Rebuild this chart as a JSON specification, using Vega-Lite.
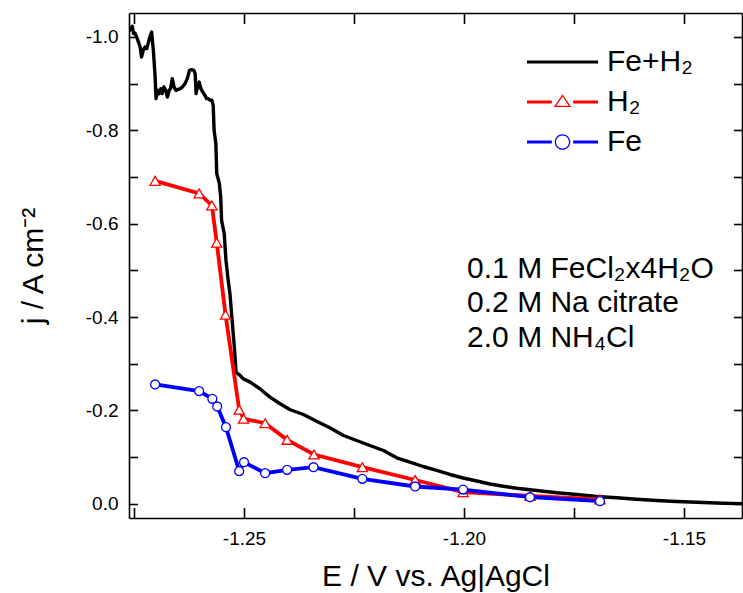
{
  "$schema": "https://vega.github.io/schema/vega-lite/v6.json",
  "width": 613,
  "height": 505,
  "autosize": {"type": "none"},
  "padding": {"left": 129, "top": 13, "right": 1, "bottom": 75},
  "background": "white",
  "config": {"view": {"stroke": null}, "font": "Liberation Sans", "axis": {"grid": false}},
  "datasets": {
    "curve": [
      {"E": -1.2761, "j": -1.0126, "series": "Fe+H2"},
      {"E": -1.2757, "j": -1.0178, "series": "Fe+H2"},
      {"E": -1.2754, "j": -1.0227, "series": "Fe+H2"},
      {"E": -1.2751, "j": -1.0071, "series": "Fe+H2"},
      {"E": -1.2748, "j": -1.0084, "series": "Fe+H2"},
      {"E": -1.2744, "j": -0.9998, "series": "Fe+H2"},
      {"E": -1.2740, "j": -0.9891, "series": "Fe+H2"},
      {"E": -1.2736, "j": -0.9784, "series": "Fe+H2"},
      {"E": -1.2733, "j": -0.9569, "series": "Fe+H2"},
      {"E": -1.2729, "j": -0.9713, "series": "Fe+H2"},
      {"E": -1.2725, "j": -0.9784, "series": "Fe+H2"},
      {"E": -1.2721, "j": -0.9749, "series": "Fe+H2"},
      {"E": -1.2718, "j": -0.9856, "series": "Fe+H2"},
      {"E": -1.2714, "j": -0.9998, "series": "Fe+H2"},
      {"E": -1.2710, "j": -1.0105, "series": "Fe+H2"},
      {"E": -1.2706, "j": -0.9713, "series": "Fe+H2"},
      {"E": -1.2702, "j": -0.9141, "series": "Fe+H2"},
      {"E": -1.2700, "j": -0.8678, "series": "Fe+H2"},
      {"E": -1.2696, "j": -0.8856, "series": "Fe+H2"},
      {"E": -1.2693, "j": -0.8785, "series": "Fe+H2"},
      {"E": -1.2689, "j": -0.8892, "series": "Fe+H2"},
      {"E": -1.2686, "j": -0.8785, "series": "Fe+H2"},
      {"E": -1.2682, "j": -0.8927, "series": "Fe+H2"},
      {"E": -1.2678, "j": -0.8856, "series": "Fe+H2"},
      {"E": -1.2674, "j": -0.8712, "series": "Fe+H2"},
      {"E": -1.2670, "j": -0.8856, "series": "Fe+H2"},
      {"E": -1.2667, "j": -0.8892, "series": "Fe+H2"},
      {"E": -1.2663, "j": -0.9107, "series": "Fe+H2"},
      {"E": -1.2659, "j": -0.8927, "series": "Fe+H2"},
      {"E": -1.2655, "j": -0.8856, "series": "Fe+H2"},
      {"E": -1.2651, "j": -0.8871, "series": "Fe+H2"},
      {"E": -1.2645, "j": -0.8892, "series": "Fe+H2"},
      {"E": -1.2640, "j": -0.8927, "series": "Fe+H2"},
      {"E": -1.2634, "j": -0.8999, "series": "Fe+H2"},
      {"E": -1.2629, "j": -0.9107, "series": "Fe+H2"},
      {"E": -1.2624, "j": -0.9284, "series": "Fe+H2"},
      {"E": -1.2619, "j": -0.9299, "series": "Fe+H2"},
      {"E": -1.2614, "j": -0.9284, "series": "Fe+H2"},
      {"E": -1.2611, "j": -0.9214, "series": "Fe+H2"},
      {"E": -1.2609, "j": -0.8785, "series": "Fe+H2"},
      {"E": -1.2605, "j": -0.8963, "series": "Fe+H2"},
      {"E": -1.2602, "j": -0.9034, "series": "Fe+H2"},
      {"E": -1.2598, "j": -0.8892, "series": "Fe+H2"},
      {"E": -1.2594, "j": -0.8820, "series": "Fe+H2"},
      {"E": -1.2589, "j": -0.8749, "series": "Fe+H2"},
      {"E": -1.2585, "j": -0.8678, "series": "Fe+H2"},
      {"E": -1.2581, "j": -0.8678, "series": "Fe+H2"},
      {"E": -1.2577, "j": -0.8642, "series": "Fe+H2"},
      {"E": -1.2573, "j": -0.8642, "series": "Fe+H2"},
      {"E": -1.2570, "j": -0.8534, "series": "Fe+H2"},
      {"E": -1.2568, "j": -0.7999, "series": "Fe+H2"},
      {"E": -1.2564, "j": -0.7714, "series": "Fe+H2"},
      {"E": -1.2562, "j": -0.7071, "series": "Fe+H2"},
      {"E": -1.2556, "j": -0.6857, "series": "Fe+H2"},
      {"E": -1.2553, "j": -0.6570, "series": "Fe+H2"},
      {"E": -1.2551, "j": -0.6070, "series": "Fe+H2"},
      {"E": -1.2545, "j": -0.5785, "series": "Fe+H2"},
      {"E": -1.2541, "j": -0.5213, "series": "Fe+H2"},
      {"E": -1.2536, "j": -0.4785, "series": "Fe+H2"},
      {"E": -1.2532, "j": -0.4500, "series": "Fe+H2"},
      {"E": -1.2527, "j": -0.3928, "series": "Fe+H2"},
      {"E": -1.2522, "j": -0.3355, "series": "Fe+H2"},
      {"E": -1.2518, "j": -0.2813, "series": "Fe+H2"},
      {"E": -1.2509, "j": -0.2749, "series": "Fe+H2"},
      {"E": -1.2502, "j": -0.2678, "series": "Fe+H2"},
      {"E": -1.2486, "j": -0.2606, "series": "Fe+H2"},
      {"E": -1.2464, "j": -0.2464, "series": "Fe+H2"},
      {"E": -1.2441, "j": -0.2284, "series": "Fe+H2"},
      {"E": -1.2418, "j": -0.2143, "series": "Fe+H2"},
      {"E": -1.2395, "j": -0.2014, "series": "Fe+H2"},
      {"E": -1.2365, "j": -0.1913, "series": "Fe+H2"},
      {"E": -1.2335, "j": -0.1770, "series": "Fe+H2"},
      {"E": -1.2305, "j": -0.1628, "series": "Fe+H2"},
      {"E": -1.2274, "j": -0.1463, "series": "Fe+H2"},
      {"E": -1.2244, "j": -0.1356, "series": "Fe+H2"},
      {"E": -1.2214, "j": -0.1249, "series": "Fe+H2"},
      {"E": -1.2183, "j": -0.1142, "series": "Fe+H2"},
      {"E": -1.2153, "j": -0.0986, "series": "Fe+H2"},
      {"E": -1.2123, "j": -0.0891, "series": "Fe+H2"},
      {"E": -1.2093, "j": -0.0799, "series": "Fe+H2"},
      {"E": -1.2062, "j": -0.0714, "series": "Fe+H2"},
      {"E": -1.2032, "j": -0.0628, "series": "Fe+H2"},
      {"E": -1.2002, "j": -0.0553, "series": "Fe+H2"},
      {"E": -1.1971, "j": -0.0489, "series": "Fe+H2"},
      {"E": -1.1941, "j": -0.0424, "series": "Fe+H2"},
      {"E": -1.1911, "j": -0.0377, "series": "Fe+H2"},
      {"E": -1.1880, "j": -0.0334, "series": "Fe+H2"},
      {"E": -1.1835, "j": -0.0285, "series": "Fe+H2"},
      {"E": -1.1789, "j": -0.0236, "series": "Fe+H2"},
      {"E": -1.1744, "j": -0.0199, "series": "Fe+H2"},
      {"E": -1.1698, "j": -0.0156, "series": "Fe+H2"},
      {"E": -1.1653, "j": -0.0129, "series": "Fe+H2"},
      {"E": -1.1608, "j": -0.0099, "series": "Fe+H2"},
      {"E": -1.1562, "j": -0.0071, "series": "Fe+H2"},
      {"E": -1.1517, "j": -0.0049, "series": "Fe+H2"},
      {"E": -1.1456, "j": -0.0028, "series": "Fe+H2"},
      {"E": -1.1411, "j": -0.0013, "series": "Fe+H2"},
      {"E": -1.1366, "j": -0.0004, "series": "Fe+H2"}
    ],
    "h2": [
      {"E": -1.2702, "j": -0.6917, "series": "H2"},
      {"E": -1.2602, "j": -0.6649, "series": "H2"},
      {"E": -1.2573, "j": -0.6392, "series": "H2"},
      {"E": -1.2562, "j": -0.5593, "series": "H2"},
      {"E": -1.2542, "j": -0.4050, "series": "H2"},
      {"E": -1.2511, "j": -0.2014, "series": "H2"},
      {"E": -1.2501, "j": -0.1821, "series": "H2"},
      {"E": -1.2452, "j": -0.1727, "series": "H2"},
      {"E": -1.2402, "j": -0.1371, "series": "H2"},
      {"E": -1.2341, "j": -0.1056, "series": "H2"},
      {"E": -1.2231, "j": -0.0784, "series": "H2"},
      {"E": -1.2111, "j": -0.0510, "series": "H2"},
      {"E": -1.2002, "j": -0.0249, "series": "H2"},
      {"E": -1.1850, "j": -0.0167, "series": "H2"},
      {"E": -1.1691, "j": -0.0096, "series": "H2"}
    ],
    "fe": [
      {"E": -1.2702, "j": -0.2556, "series": "Fe"},
      {"E": -1.2602, "j": -0.2413, "series": "Fe"},
      {"E": -1.2572, "j": -0.2250, "series": "Fe"},
      {"E": -1.2561, "j": -0.2085, "series": "Fe"},
      {"E": -1.2541, "j": -0.1641, "series": "Fe"},
      {"E": -1.2511, "j": -0.0699, "series": "Fe"},
      {"E": -1.2500, "j": -0.0891, "series": "Fe"},
      {"E": -1.2452, "j": -0.0656, "series": "Fe"},
      {"E": -1.2402, "j": -0.0729, "series": "Fe"},
      {"E": -1.2342, "j": -0.0784, "series": "Fe"},
      {"E": -1.2231, "j": -0.0536, "series": "Fe"},
      {"E": -1.2111, "j": -0.0371, "series": "Fe"},
      {"E": -1.2002, "j": -0.0306, "series": "Fe"},
      {"E": -1.1850, "j": -0.0141, "series": "Fe"},
      {"E": -1.1691, "j": -0.0056, "series": "Fe"}
    ],
    "notes": [
      {"E": -1.1993, "j": -0.4840, "label": "0.1 M FeCl₂x4H₂O"},
      {"E": -1.1993, "j": -0.4101, "label": "0.2 M Na citrate"},
      {"E": -1.1993, "j": -0.3362, "label": "2.0 M NH₄Cl"}
    ]
  },
  "resolve": {"axis": {"x": "independent", "y": "independent"}},
  "layer": [
    {
      "data": {"name": "curve"},
      "mark": {"type": "line", "strokeWidth": 3.4, "clip": true, "strokeJoin": "round"},
      "encoding": {
        "x": {
          "field": "E", "type": "quantitative",
          "scale": {"domain": [-1.27614, -1.13682], "nice": false, "zero": false},
          "axis": {
            "orient": "bottom",
            "values": [-1.275, -1.25, -1.225, -1.2, -1.175, -1.15],
            "labelExpr": "abs(round(datum.value*1000)) % 50 === 0 ? replace(format(datum.value, '.2f'), '\u2212', '-') : ''",
            "tickSize": -10.5, "labelPadding": 36.5, "labelBaseline": "alphabetic",
            "labelFontSize": 19, "labelFont": "Liberation Sans", "labelColor": "black",
            "labelOverlap": false, "labelFlush": false, "labelBound": false,
            "tickColor": "black", "tickWidth": 1.6, "domainColor": "black", "domainWidth": 1.6,
            "title": "E / V vs. Ag|AgCl", "titleFontSize": 30, "titleFont": "Liberation Sans",
            "titleFontWeight": "normal", "titleColor": "black", "titleBaseline": "alphabetic", "titleY": 67,
            "encode": {"ticks": {"update": {"y2": {"signal": "abs(round(datum.value*1000)) % 50 === 0 ? -10.5 : -5.5"}}}}
          }
        },
        "y": {
          "field": "j", "type": "quantitative",
          "scale": {"domain": [0.0304, -1.0512], "nice": false, "zero": false},
          "axis": {
            "orient": "left",
            "values": [0, -0.1, -0.2, -0.3, -0.4, -0.5, -0.6, -0.7, -0.8, -0.9, -1.0],
            "labelExpr": "abs(round(datum.value*10)) % 2 === 0 ? replace(format(datum.value, '.1f'), '\u2212', '-') : ''",
            "tickSize": -8.5, "labelPadding": 19.5,
            "labelFontSize": 19, "labelFont": "Liberation Sans", "labelColor": "black",
            "labelOverlap": false, "labelFlush": false, "labelBound": false,
            "tickColor": "black", "tickWidth": 1.6, "domainColor": "black", "domainWidth": 1.6,
            "title": "j / A cm⁻²", "titleFontSize": 30, "titleFont": "Liberation Sans",
            "titleFontWeight": "normal", "titleColor": "black", "titleBaseline": "alphabetic", "titleX": -87,
            "encode": {"ticks": {"update": {"x2": {"signal": "abs(round(datum.value*10)) % 2 === 0 ? 8.5 : 5"}}}}
          }
        },
        "color": {
          "field": "series", "type": "nominal",
          "scale": {"domain": ["Fe+H2", "H2", "Fe"], "range": ["#000000", "#FF0000", "#0000FF"]},
          "legend": {
            "orient": "none", "legendX": 398, "legendY": 29, "title": null, "padding": 0,
            "direction": "vertical",
            "symbolSize": 5041, "clipHeight": 40, "rowPadding": 0,
            "labelFontSize": 30, "labelFont": "Liberation Sans", "labelColor": "black", "labelOffset": 9,
            "labelLimit": 300,
            "labelExpr": "datum.value === 'Fe+H2' ? 'Fe+H₂' : datum.value === 'H2' ? 'H₂' : 'Fe'",
            "encode": {
              "symbols": {
                "update": {
                  "shape": {"signal": "datum.value === 'Fe+H2' ? 'M-1,-0.045H1V0.045H-1Z' : datum.value === 'H2' ? 'M-1,-0.045H-0.3V0.045H-1ZM0.3,-0.045H1V0.045H0.3ZM0,-0.22L0.245,0.14L-0.245,0.14ZM0,-0.154L-0.175,0.103L0.175,0.103Z' : 'M-1,-0.045H-0.3V0.045H-1ZM0.3,-0.045H1V0.045H0.3ZM0.22,0A0.22,0.22 0 1,1 -0.22,0A0.22,0.22 0 1,1 0.22,0ZM0.183,0A0.183,0.183 0 1,0 -0.183,0A0.183,0.183 0 1,0 0.183,0Z'"},
                  "fill": {"scale": "color", "field": "value"},
                  "stroke": {"value": "transparent"},
                  "strokeWidth": {"value": 0},
                  "opacity": {"value": 1}
                }
              }
            }
          }
        }
      }
    },
    {
      "data": {"name": "h2"},
      "mark": {"type": "line", "strokeWidth": 3.8, "clip": true},
      "encoding": {
        "x": {
          "field": "E", "type": "quantitative",
          "scale": {"domain": [-1.27614, -1.13682], "nice": false, "zero": false},
          "axis": {
            "orient": "top",
            "values": [-1.275, -1.25, -1.225, -1.2, -1.175, -1.15],
            "labels": false, "title": null,
            "tickSize": -10.5, "tickColor": "black", "tickWidth": 1.6, "domainColor": "black", "domainWidth": 1.6,
            "encode": {"ticks": {"update": {"y2": {"signal": "abs(round(datum.value*1000)) % 50 === 0 ? 10.5 : 5.5"}}}}
          }
        },
        "y": {
          "field": "j", "type": "quantitative",
          "scale": {"domain": [0.0304, -1.0512], "nice": false, "zero": false},
          "axis": {
            "orient": "right",
            "values": [0, -0.1, -0.2, -0.3, -0.4, -0.5, -0.6, -0.7, -0.8, -0.9, -1.0],
            "labels": false, "title": null,
            "tickSize": -8.5, "tickColor": "black", "tickWidth": 1.6, "domainColor": "black", "domainWidth": 1.6,
            "encode": {"ticks": {"update": {"x2": {"signal": "abs(round(datum.value*10)) % 2 === 0 ? -8.5 : -5"}}}}
          }
        },
        "color": {"field": "series", "type": "nominal", "scale": {"domain": ["Fe+H2", "H2", "Fe"], "range": ["#000000", "#FF0000", "#0000FF"]}}
      }
    },
    {
      "data": {"name": "h2"},
      "mark": {"type": "point", "shape": "triangle-up", "filled": true, "fill": "white", "stroke": "#FF0000", "strokeWidth": 1.3, "size": 105, "opacity": 1},
      "encoding": {
        "x": {"field": "E", "type": "quantitative", "scale": {"domain": [-1.27614, -1.13682], "nice": false, "zero": false}, "axis": null},
        "y": {"field": "j", "type": "quantitative", "scale": {"domain": [0.0304, -1.0512], "nice": false, "zero": false}, "axis": null}
      }
    },
    {
      "data": {"name": "fe"},
      "mark": {"type": "line", "strokeWidth": 3.8, "clip": true},
      "encoding": {
        "x": {"field": "E", "type": "quantitative", "scale": {"domain": [-1.27614, -1.13682], "nice": false, "zero": false}, "axis": null},
        "y": {"field": "j", "type": "quantitative", "scale": {"domain": [0.0304, -1.0512], "nice": false, "zero": false}, "axis": null},
        "color": {"field": "series", "type": "nominal", "scale": {"domain": ["Fe+H2", "H2", "Fe"], "range": ["#000000", "#FF0000", "#0000FF"]}}
      }
    },
    {
      "data": {"name": "fe"},
      "mark": {"type": "point", "shape": "circle", "filled": true, "fill": "white", "stroke": "#0000FF", "strokeWidth": 1.3, "size": 80, "opacity": 1},
      "encoding": {
        "x": {"field": "E", "type": "quantitative", "scale": {"domain": [-1.27614, -1.13682], "nice": false, "zero": false}, "axis": null},
        "y": {"field": "j", "type": "quantitative", "scale": {"domain": [0.0304, -1.0512], "nice": false, "zero": false}, "axis": null}
      }
    },
    {
      "data": {"name": "notes"},
      "mark": {"type": "text", "align": "left", "baseline": "alphabetic", "fontSize": 30, "font": "Liberation Sans", "color": "black"},
      "encoding": {
        "x": {"field": "E", "type": "quantitative", "scale": {"domain": [-1.27614, -1.13682], "nice": false, "zero": false}, "axis": null},
        "y": {"field": "j", "type": "quantitative", "scale": {"domain": [0.0304, -1.0512], "nice": false, "zero": false}, "axis": null},
        "text": {"field": "label", "type": "nominal"}
      }
    }
  ]
}
